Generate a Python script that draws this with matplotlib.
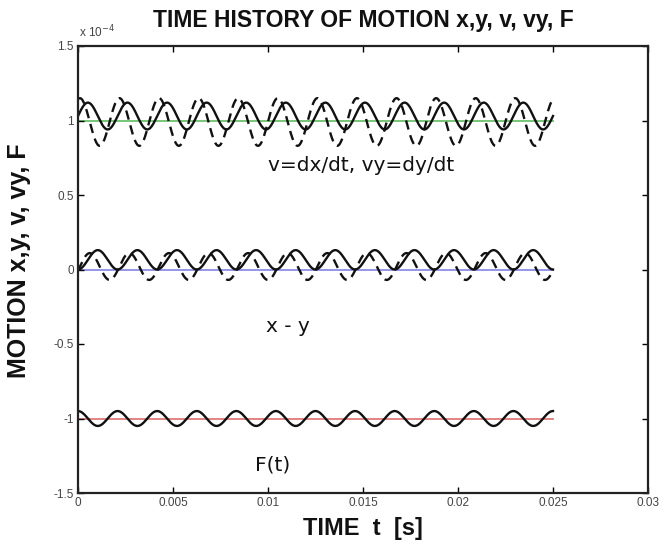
import numpy as np
import matplotlib
matplotlib.use("Agg")
import matplotlib.pyplot as plt

plt.rcParams['font.family'] = ['DejaVu Sans']

# ---- data (values in units of 1e-4) ----
t_end = 0.025
freq_hz = 480.0
series_names = ["v", "vy", "x", "y", "F"]
series_center = [1.03, 0.99, 0.065, 0.02, -1.0]
series_amp = [0.09, 0.16, 0.065, 0.09, 0.05]
series_phase = [-np.pi / 2, -np.pi / 2 + 1.27, np.pi, np.pi + 1.27, 0.0]
series_style = ["-", "--", "-", "--", "-"]
ref_levels = [1.0, 0.0, -1.0]
ref_colors = ["#6cc06c", "#8e8ee8", "#e07a7a"]
labels_text = ["v=dx/dt, vy=dy/dt", "x - y", "F(t)"]
labels_t = [0.0100, 0.0099, 0.0093]
labels_val = [0.70, -0.38, -1.31]
xticks = [0, 0.005, 0.01, 0.015, 0.02, 0.025, 0.03]
xticklabels = ["0", "0.005", "0.01", "0.015", "0.02", "0.025", "0.03"]
yticks = [-1.5, -1, -0.5, 0, 0.5, 1, 1.5]
yticklabels = ["-1.5", "-1", "-0.5", "0", "0.5", "1", "1.5"]

fig = plt.figure(figsize=(6.65, 5.49), dpi=100)
ax = fig.add_axes([78 / 665, (549 - 493) / 549, (648 - 78) / 665, (493 - 46) / 549])

t = np.linspace(0, t_end, 2000)
w = 2 * np.pi * freq_hz
for lvl, col in zip(ref_levels, ref_colors):
    ax.plot([0, t_end], [lvl, lvl], color=col, lw=1.3, zorder=1)
for c, a, p, ls in zip(series_center, series_amp, series_phase, series_style):
    ax.plot(t, c + a * np.cos(w * t + p), color="#111111", ls=ls, lw=1.7,
            dashes=(4, 2.5) if ls == "--" else (None, None), zorder=2)

for txt, tx, ty in zip(labels_text, labels_t, labels_val):
    ax.text(tx, ty, txt, fontsize=14.5, va="center", ha="left", color="#111111")

tick_font = {"family": "Liberation Sans", "size": 8.5}
ax.set_xlim(0, 0.03)
ax.set_ylim(-1.5, 1.5)
ax.set_xticks(xticks)
ax.set_xticklabels(xticklabels, fontdict=tick_font, color="#444444")
ax.set_yticks(yticks)
ax.set_yticklabels(yticklabels, fontdict=tick_font, color="#444444")
ax.tick_params(direction="in", length=4, width=1, top=True, right=True,
               labeltop=False, labelright=False, pad=3)
for s in ax.spines.values():
    s.set_linewidth(1.6)
    s.set_color("#222222")

ax.text(0.002, 1.012, r"x 10$^{-4}$", transform=ax.transAxes, fontsize=8.5,
        family="Liberation Sans", color="#444444", ha="left", va="bottom")
ax.set_title("TIME HISTORY OF MOTION x,y, v, vy, F", fontsize=16.5, pad=14,
             color="#111111", family="Liberation Sans", weight="bold")
ax.set_xlabel("TIME  t  [s]", fontsize=17, labelpad=6, color="#111111",
              family="Liberation Sans", weight="bold")
ax.set_ylabel("MOTION x,y, v, vy, F", fontsize=18, color="#111111",
              family="Liberation Sans", weight="bold")
ax.yaxis.set_label_coords(-0.082, 0.52)

fig.savefig("out.png", dpi=100)
